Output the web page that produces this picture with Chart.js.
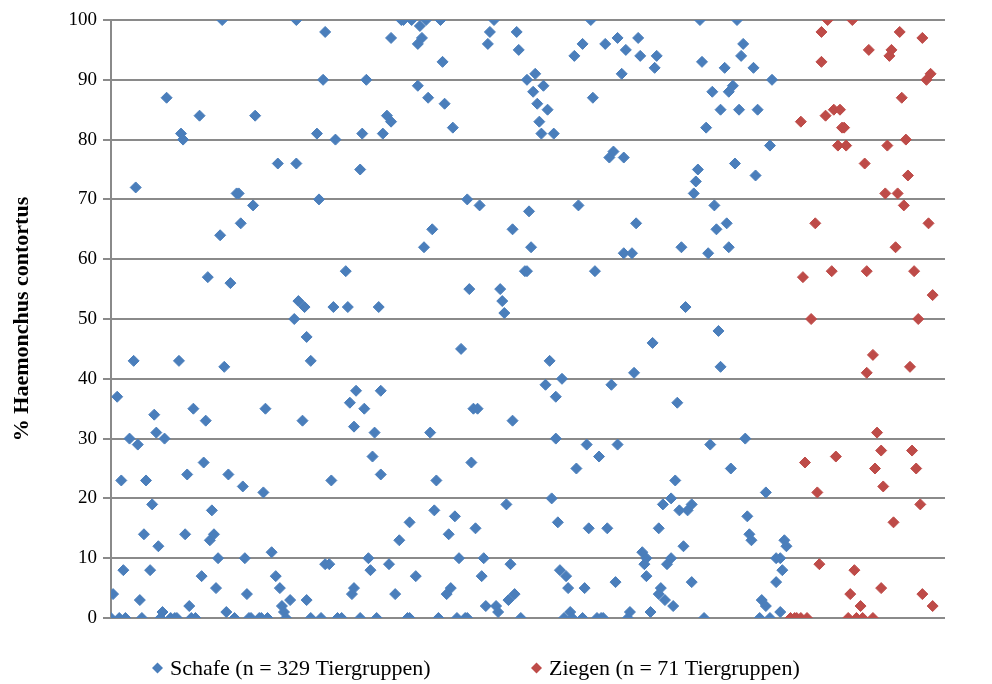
<!DOCTYPE html>
<html>
<head>
<meta charset="utf-8">
<script src="https://cdn.jsdelivr.net/npm/chart.js@4.4.1/dist/chart.umd.min.js"></script>
<style>
  html, body { margin: 0; padding: 0; background: #fff; }
  #wrap { width: 992px; height: 684px; }
</style>
</head>
<body>
<div id="wrap"><canvas id="chart"></canvas></div>
<script>
// Tiergruppe number (x) and % Haemonchus contortus (y)
const schafeGruppe = [
  0,1,3,4,5,6,7,9,11,12,13,14,15,16,17,19,20,21,22,23,24,25,26,27,29,31,32,33,34,35,36,37,38,39,40,41,43,44,45,46,47,48,49,50,51,52,53,54,55,56,57,58,60,61,62,63,64,65,66,
  67,68,69,70,72,73,74,75,76,78,80,81,82,83,84,85,87,89,90,90,91,93,94,95,95,97,97,100,101,102,103,104,104,106,107,108,109,110,112,114,115,116,117,118,118,119,121,121,122,123,124,125,126,127,128,129,130,131,131,132,134,
  135,136,136,138,140,141,142,144,145,145,146,148,149,149,150,151,152,153,154,155,156,157,158,159,160,161,162,163,164,165,166,167,168,169,170,172,173,173,174,175,176,177,178,179,180,181,182,183,184,186,187,188,189,190,191,192,193,194,195,195,196,197,198,199,
  201,202,202,203,204,205,206,207,208,209,210,211,212,213,214,215,216,216,217,218,219,220,221,222,223,224,225,226,227,229,229,230,231,232,233,234,235,236,237,238,239,240,241,242,243,244,245,246,246,248,249,249,250,251,252,253,254,255,256,257,258,259,260,260,262,263,264,265,266,266,267,
  268,269,270,272,272,273,274,275,276,277,278,279,280,282,282,283,284,285,286,287,288,289,290,291,292,293,294,295,296,296,298,299,300,300,301,302,303,304,305,306,307,308,309,310,311,312,313,314,315,316,318,318,320,320,321,323,323,325,325,326,327,328
];
const schafeWert = [
  0,4,37,0,23,8,0,30,43,72,29,3,0,14,23,8,19,34,31,12,0,1,30,87,0,0,0,43,81,80,14,24,2,0,35,0,84,7,26,33,57,13,18,14,5,10,64,100,42,1,24,56,0,71,71,66,22,10,4,
  0,0,69,84,0,0,21,35,0,11,7,76,5,2,1,0,3,50,100,76,53,33,52,47,3,43,0,81,70,0,90,98,9,9,23,52,80,0,0,58,52,36,4,5,32,38,0,75,81,35,90,10,8,27,31,0,52,24,38,81,84,
  9,97,83,4,13,100,100,0,16,0,100,7,89,96,99,97,62,100,87,31,65,18,23,0,100,93,86,4,14,5,82,17,0,10,45,0,0,70,55,26,35,15,35,69,7,10,2,96,98,100,2,1,55,53,51,19,3,9,33,65,4,98,95,0,
  58,58,90,68,62,88,91,86,83,81,89,39,85,43,20,81,30,37,16,8,40,0,7,5,1,0,94,25,69,0,96,5,29,15,100,87,58,0,27,0,0,96,15,77,39,78,6,29,97,91,77,61,95,0,1,61,41,66,97,94,11,9,7,10,1,46,92,94,15,4,5,
  19,3,9,10,20,2,23,36,18,62,12,52,18,19,6,71,73,75,100,93,0,82,61,29,88,69,65,48,42,85,92,66,62,88,25,89,76,100,85,94,96,30,17,14,13,92,74,85,0,3,21,2,0,79,90,10,6,10,1,8,13,12
];
const ziegenGruppe = [
  330,332,333,335,335,336,337,338,340,342,343,344,345,345,347,348,350,351,352,353,354,355,356,357,358,359,360,361,362,364,365,366,367,367,368,
  370,370,371,372,374,374,375,376,377,378,379,380,381,382,383,384,385,386,387,388,389,390,391,392,393,394,394,396,397,398,399,399
];
const ziegenWert = [
  0,0,0,0,83,57,26,0,50,66,21,9,98,93,84,100,58,85,27,79,85,82,82,79,0,4,100,8,0,2,0,76,41,58,95,
  0,44,25,31,28,5,22,71,79,94,95,16,62,71,98,87,69,80,74,42,28,58,25,50,19,4,97,90,66,91,54,2
];
const yTicks = [0, 10, 20, 30, 40, 50, 60, 70, 80, 90, 100];
const seriesNames = ['Schafe (n = 329 Tiergruppen)', 'Ziegen (n = 71 Tiergruppen)'];

const toPoints = (xs, ys) => xs.map((x, i) => ({ x: x, y: ys[i] }));

const serif = '"Liberation Serif", "Times New Roman", serif';
const gridGrey = '#8a8a8a';

// legend drawn under the plot, like the Excel original
const bottomLegend = {
  id: 'bottomLegend',
  afterDraw(chart) {
    const ctx = chart.ctx;
    const area = chart.chartArea;
    ctx.save();
    ctx.font = '22px ' + serif;
    ctx.textBaseline = 'middle';
    const starts = [area.left + 41, area.left + 420];
    const y = area.bottom + 50;
    chart.data.datasets.forEach((ds, i) => {
      const x = starts[i];
      const r = 5.5;
      ctx.fillStyle = ds.backgroundColor;
      ctx.beginPath();
      ctx.moveTo(x + r, y - r);
      ctx.lineTo(x + 2 * r, y);
      ctx.lineTo(x + r, y + r);
      ctx.lineTo(x, y);
      ctx.closePath();
      ctx.fill();
      ctx.fillStyle = '#000';
      ctx.fillText(ds.label, x + 18, y + 1);
    });
    ctx.restore();
  }
};

new Chart(document.getElementById('chart'), {
  type: 'scatter',
  data: {
    datasets: [
      {
        label: seriesNames[0],
        data: toPoints(schafeGruppe, schafeWert),
        backgroundColor: '#4A7EBB',
        borderColor: '#4A7EBB',
        pointStyle: 'rectRot',
        pointRadius: 5.5,
        borderWidth: 1,
      },
      {
        label: seriesNames[1],
        data: toPoints(ziegenGruppe, ziegenWert),
        backgroundColor: '#BE4B48',
        borderColor: '#BE4B48',
        pointStyle: 'rectRot',
        pointRadius: 5.5,
        borderWidth: 1,
      },
    ],
  },
  options: {
    responsive: true,
    maintainAspectRatio: false,
    animation: false,
    layout: { padding: { top: 20, right: 47, bottom: 66, left: 0 } },
    plugins: {
      legend: { display: false },
      tooltip: { enabled: false },
    },
    scales: {
      x: {
        type: 'linear',
        min: 0,
        max: 405,
        display: false,
      },
      y: {
        min: 0,
        max: 100,
        afterBuildTicks: (scale) => { scale.ticks = yTicks.map(v => ({ value: v })); },
        afterFit: (scale) => { scale.width = 111; },
        border: { display: true, color: gridGrey, width: 2 },
        grid: { color: gridGrey, lineWidth: 2, tickLength: 8, drawTicks: true },
        ticks: { color: '#000', padding: 6, font: { family: serif, size: 19 } },
        title: {
          display: true,
          text: '% Haemonchus contortus',
          color: '#000',
          padding: { top: 9, bottom: 0 },
          font: { family: serif, size: 22, weight: 'bold' },
        },
      },
    },
  },
  plugins: [bottomLegend],
});
</script>
</body>
</html>
